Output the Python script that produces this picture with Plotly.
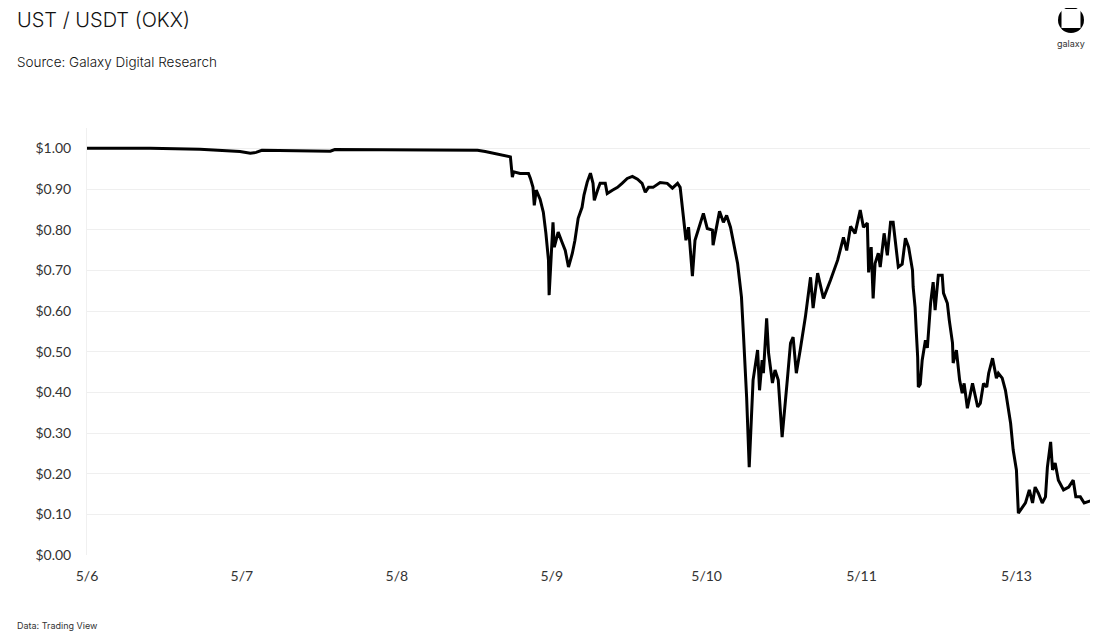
import plotly.graph_objects as go

# hours since 5/6 00:00
hours = [0, 9.8, 17.5, 20.6, 23.7, 25.3, 26.2, 27.1, 31.5, 37.7, 38.4, 45.4, 53.2, 60.5, 61.7, 62.9, 64.8, 65.6,
         65.9, 66.1, 67.1, 68.4, 68.7, 69.1, 69.3, 69.6, 70.2, 70.7, 71.1, 71.5, 71.6, 71.9, 72.2, 72.4, 73.0,
         73.6, 74.1, 74.6, 75.2, 75.6, 76.1, 76.7, 77.0, 77.5, 78.0, 78.4, 78.6, 79.1, 79.5, 80.3, 80.6, 81.4,
         82.2, 82.9, 83.7, 84.5, 85.3, 86.0, 86.5, 87.0, 87.7, 88.8, 89.9, 90.7, 91.5, 91.9, 92.4, 92.8, 93.2,
         93.8, 94.2, 94.7, 95.5, 96.1, 96.9, 97.0, 98.0, 98.6, 99.1, 99.7, 100.1, 100.8, 101.1, 101.4, 101.7,
         102.2, 102.6, 102.9, 103.2, 103.9, 104.2, 104.6, 104.8, 105.3, 105.6, 106.2, 106.6, 107.1, 107.7,
         108.5, 109.0, 109.4, 109.9, 110.5, 111.3, 112.1, 112.5, 113.2, 114.1, 115.2, 116.3, 117.2, 117.7,
         118.3, 119.0, 119.8, 120.3, 120.9, 121.1, 121.5, 121.8, 122.1, 122.6, 122.9, 123.5, 124.0, 124.5,
         124.9, 125.2, 125.7, 126.3, 126.8, 127.3, 127.9, 128.0, 128.3, 128.5, 128.7, 128.8, 129.1, 129.4,
         129.9, 130.2, 130.7, 131.1, 131.4, 131.9, 132.5, 132.7, 133.3, 133.6, 134.1, 134.2, 134.7, 135.2,
         135.6, 135.9, 136.4, 137.2, 137.6, 138.0, 138.4, 138.9, 139.4, 139.7, 140.3, 140.9, 141.2, 141.8,
         142.3, 142.6, 143.1, 143.5, 144.0, 144.3, 144.9, 145.4, 146.0, 146.5, 146.9, 147.4, 148.0, 148.5,
         148.8, 149.3, 149.6, 150.0, 150.5, 151.3, 152.1, 152.8, 153.2, 153.9, 154.5, 155.2, 155.8]

price = [1.000, 1.000, 0.998, 0.995, 0.992, 0.988, 0.990, 0.995, 0.994, 0.993, 0.997, 0.996, 0.995, 0.995,
         0.992, 0.988, 0.983, 0.979, 0.929, 0.942, 0.938, 0.938, 0.926, 0.904, 0.860, 0.897, 0.875, 0.843,
         0.791, 0.725, 0.639, 0.733, 0.818, 0.757, 0.794, 0.769, 0.749, 0.708, 0.742, 0.774, 0.828, 0.855,
         0.885, 0.917, 0.939, 0.914, 0.872, 0.897, 0.914, 0.914, 0.889, 0.897, 0.904, 0.914, 0.926, 0.931,
         0.924, 0.914, 0.892, 0.904, 0.904, 0.916, 0.914, 0.902, 0.914, 0.904, 0.830, 0.774, 0.806, 0.686,
         0.774, 0.799, 0.840, 0.803, 0.799, 0.762, 0.845, 0.818, 0.835, 0.806, 0.774, 0.717, 0.676, 0.634,
         0.545, 0.388, 0.216, 0.349, 0.430, 0.504, 0.405, 0.479, 0.447, 0.582, 0.496, 0.423, 0.455, 0.430,
         0.290, 0.430, 0.521, 0.536, 0.447, 0.504, 0.585, 0.683, 0.607, 0.693, 0.631, 0.676, 0.725, 0.781,
         0.749, 0.808, 0.791, 0.848, 0.806, 0.816, 0.695, 0.757, 0.631, 0.717, 0.742, 0.708, 0.791, 0.737,
         0.818, 0.818, 0.774, 0.708, 0.715, 0.779, 0.757, 0.700, 0.659, 0.609, 0.545, 0.487, 0.413, 0.420,
         0.479, 0.528, 0.509, 0.619, 0.671, 0.602, 0.688, 0.688, 0.644, 0.619, 0.577, 0.521, 0.472, 0.504,
         0.430, 0.398, 0.422, 0.361, 0.422, 0.388, 0.364, 0.373, 0.422, 0.413, 0.447, 0.484, 0.435, 0.447,
         0.435, 0.405, 0.373, 0.324, 0.258, 0.209, 0.103, 0.118, 0.128, 0.160, 0.128, 0.167, 0.152, 0.128,
         0.143, 0.216, 0.278, 0.209, 0.226, 0.184, 0.160, 0.167, 0.184, 0.143, 0.143, 0.128, 0.132, 0.135]

tick_hours = [0, 24, 48, 72, 96, 120, 144]
tick_labels = ["5/6", "5/7", "5/8", "5/9", "5/10", "5/11", "5/13"]
y_ticks = [0.0, 0.1, 0.2, 0.3, 0.4, 0.5, 0.6, 0.7, 0.8, 0.9, 1.0]

# page offset of the default body margin
OFF = 8
W, H = 1092, 629
ML, MR, MT = 87 - OFF, 10, 128 - OFF
MB = H - (555 - OFF)
PW = W - ML - MR
PH = H - MT - MB

fig = go.Figure()
fig.add_trace(go.Scatter(x=hours, y=price, mode="lines",
                         line=dict(color="#000000", width=3), hoverinfo="x+y", showlegend=False))

fig.update_layout(
    width=W, height=H,
    paper_bgcolor="white", plot_bgcolor="white",
    margin=dict(l=ML, r=MR, t=MT, b=MB),
    font=dict(family="Lato, sans-serif", color="#333333", size=14),
    xaxis=dict(range=[0, 155.4], tickvals=tick_hours, ticktext=tick_labels, showgrid=False,
               zeroline=False, showline=False, ticks="outside", ticklen=8, tickcolor="rgba(0,0,0,0)",
               tickfont=dict(size=14, color="#333333")),
    yaxis=dict(range=[0, 1.05], tickvals=y_ticks, tickformat="$.2f", showgrid=True, gridcolor="#efefef",
               gridwidth=1, zeroline=False, showline=True, linecolor="#f0f0f0", ticks="outside", ticklen=12,
               tickcolor="rgba(0,0,0,0)", tickfont=dict(size=14, color="#333333")),
)


def px(x):
    return (x - OFF - ML) / PW


def py(y):
    return (H - MB - (y - OFF)) / PH


fig.add_annotation(text="UST / USDT (OKX)", xref="paper", yref="paper", x=px(15), y=py(20),
                   xanchor="left", yanchor="middle", showarrow=False,
                   font=dict(family="Inter, sans-serif", size=20, color="#111111", weight=300))
fig.add_annotation(text="Source: Galaxy Digital Research", xref="paper", yref="paper", x=px(15),
                   y=py(62), xanchor="left", yanchor="middle", showarrow=False,
                   font=dict(family="Inter, sans-serif", size=13.5, color="#111111", weight=300))
fig.add_annotation(text="Data: Trading View", xref="paper", yref="paper", x=px(15),
                   y=py(625), xanchor="left", yanchor="middle", showarrow=False,
                   font=dict(family="Inter, sans-serif", size=9, color="#333333"))
fig.add_annotation(text="galaxy", xref="paper", yref="paper", x=px(1071),
                   y=py(43), xanchor="center", yanchor="middle", showarrow=False,
                   font=dict(family="Inter, sans-serif", size=9, color="#333333"))

fig.add_shape(type="circle", xref="paper", yref="paper", x0=px(1058), x1=px(1084), y0=py(33), y1=py(7),
              fillcolor="black", line=dict(width=0))
fig.add_shape(type="rect", xref="paper", yref="paper", x0=px(1061.5), x1=px(1080.5), y0=py(28), y1=py(9),
              fillcolor="white", line=dict(width=0))

fig.write_html("out.html")
